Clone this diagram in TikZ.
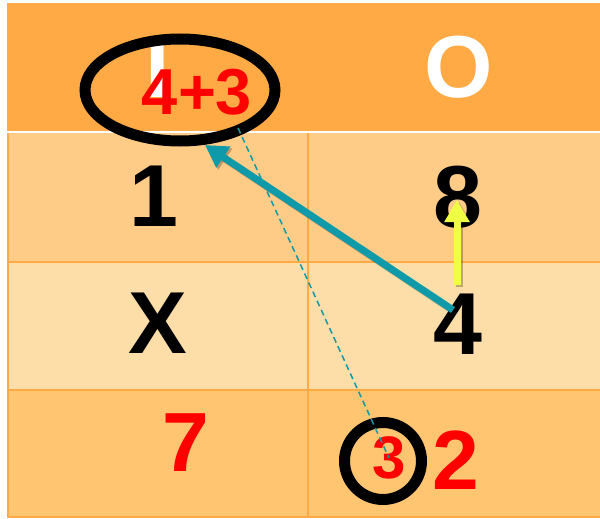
\documentclass[tikz,border=0pt]{standalone}
\usepackage{fontspec}
\setmainfont{Liberation Sans}
\usetikzlibrary{positioning,arrows.meta}
\definecolor{hdrorange}{HTML}{FFAA44}
\definecolor{rowone}{HTML}{FFCC88}
\definecolor{rowtwo}{HTML}{FEDEA8}
\definecolor{rowthree}{HTML}{FFC570}
\definecolor{tealarrow}{HTML}{0E9AA8}
\definecolor{yelarrow}{HTML}{EEFF44}
\tikzset{
  num/.style={font=\bfseries\fontsize{88}{88}\selectfont, inner sep=0pt},
  smallnum/.style={font=\bfseries\fontsize{#1}{#1}\selectfont, inner sep=0pt, red},
  gridline/.style={hdrorange, line width=2},
  fatarrow/.style={line width=7, -{Triangle[width=24pt,length=22pt]}},
  shadowed/.style={black, opacity=.25, line width=7, -{Triangle[width=24pt,length=22pt]}}
}
\begin{document}
\begin{tikzpicture}[x=1pt, y=-1pt]
\useasboundingbox (0,0) rectangle (600,519);
\fill[white] (0,0) rectangle (600,519);
% -- table rows --
\fill[hdrorange] (7,3) rectangle (600,132);
\fill[rowone] (7,132) rectangle (600,262);
\fill[rowtwo] (7,262) rectangle (600,390);
\fill[rowthree] (7,390) rectangle (600,517);
\draw[white, line width=2] (7,132) -- (600,132);
\draw[gridline] (7,262) -- (600,262);
\draw[gridline] (7,390) -- (600,390);
\draw[gridline] (308,133) -- (308,517);
\draw[gridline] (8,133) -- (8,517);
\draw[gridline] (7,517) -- (600,517);
% -- entries --
\node[num, white] (hi) at (158,67) {I};
\node[num, white] (ho) at (459,67) {O};
\node[num] (a1) at (154,196) {1};
\node[num] (b1) at (458,197) {8};
\node[num] (a2) at (158,323) {X};
\node[num] (b2) at (458,324) {4};
\node[num, red, font=\bfseries\fontsize{84}{84}\selectfont] (a3) at (186,443) {7};
\node[num, red, font=\bfseries\fontsize{84}{84}\selectfont] (b3) at (456,460) {2};
\node[smallnum=65] (sum) at (197,92) {4+3};
\node[smallnum=60] (carry) at (389,458) {3};
% -- rings --
\coordinate (ringtop) at (180,90);
\coordinate (ringbot) at (383,461);
\draw[line width=11] (ringtop) ellipse [x radius=95, y radius=51];
\draw[line width=11] (ringbot) circle [radius=38.5];
% -- arrows --
\coordinate (dashstart) at (238,128);
\coordinate (tealstart) at (453,310);
\coordinate (tealtip) at (205,145);
\coordinate (yelstart) at (457,285);
\coordinate (yeltip) at (457,200);
\draw[tealarrow, line width=1.5, dash pattern=on 6pt off 4pt] (dashstart) -- (carry.center);
\draw[shadowed] ([shift={(2pt,-2pt)}]tealstart) -- ([shift={(2pt,-2pt)}]tealtip);
\draw[fatarrow, tealarrow] (tealstart) -- (tealtip);
\draw[shadowed] ([shift={(2pt,-2pt)}]yelstart) -- ([shift={(2pt,-2pt)}]yeltip);
\draw[fatarrow, yelarrow] (yelstart) -- (yeltip);
\end{tikzpicture}
\end{document}
